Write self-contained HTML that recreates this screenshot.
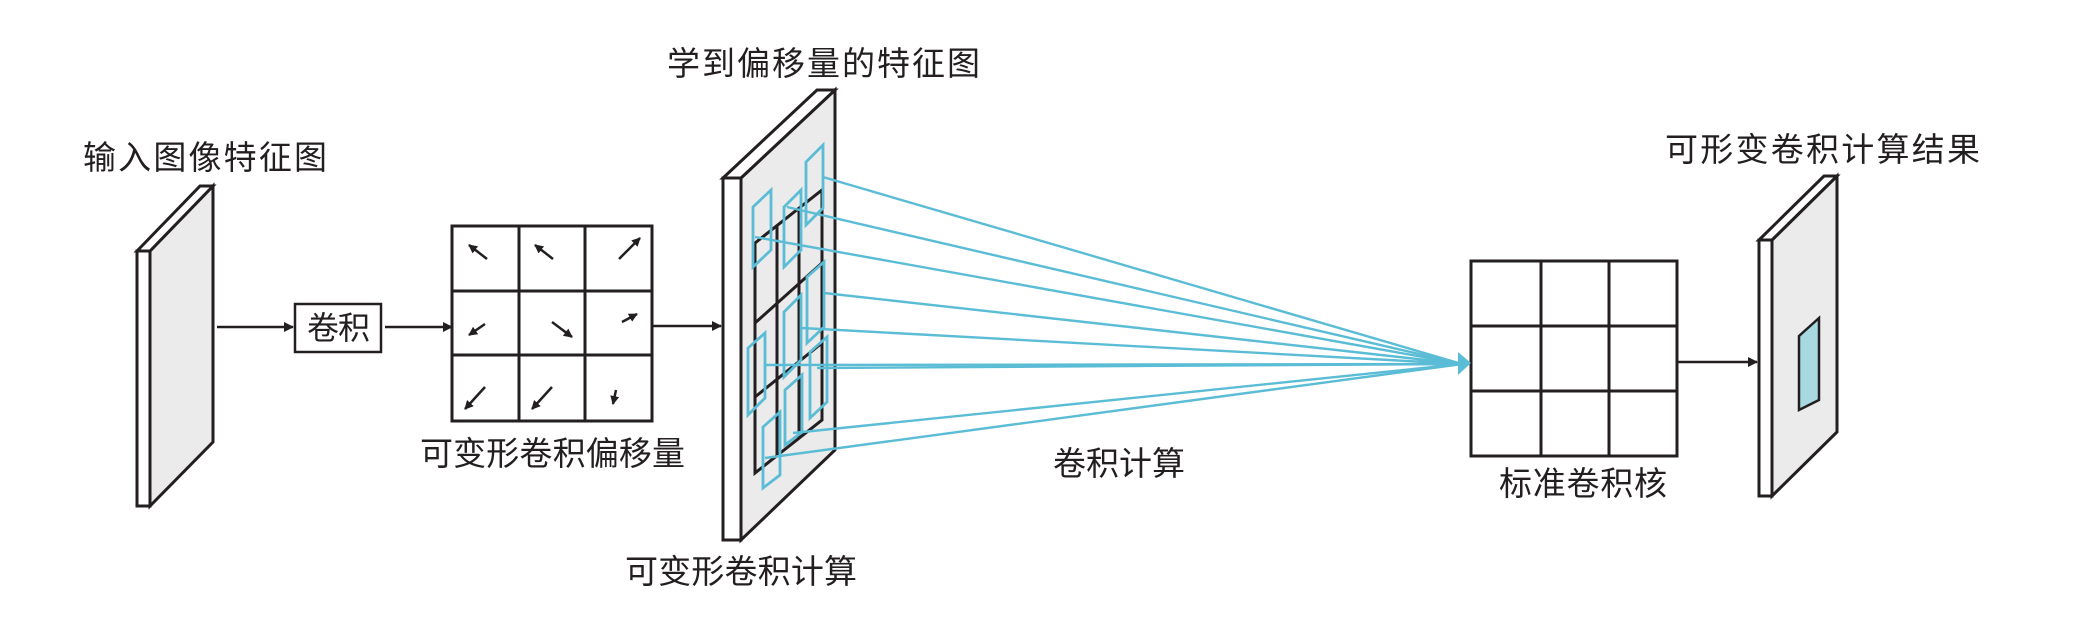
<!DOCTYPE html>
<html><head><meta charset="utf-8"><style>
html,body{margin:0;padding:0;background:#fff;}
svg{display:block;}
text{font-family:"Liberation Sans","Noto Sans CJK SC",sans-serif;font-size:33px;fill:#231f20;}
</style></head><body>
<svg width="2074" height="625" viewBox="0 0 2074 625" xmlns="http://www.w3.org/2000/svg">
<defs>
<marker id="ah" markerWidth="10" markerHeight="10" refX="9" refY="5" orient="auto" markerUnits="userSpaceOnUse"><path d="M0,0 L10,5 L0,10 Z" fill="#231f20"/></marker>
<marker id="sa" markerWidth="9" markerHeight="9" refX="8" refY="4.5" orient="auto" markerUnits="userSpaceOnUse"><path d="M0,0 L9,4.5 L0,9 Z" fill="#231f20"/></marker>
</defs>
<g stroke="#231f20" stroke-width="3" stroke-linejoin="miter">
<polygon points="150,251 213,186 213,442 150,506" fill="#ebebeb"/>
<polygon points="137,251 200,186 213,186 150,251" fill="#fff"/>
<rect x="137" y="251" width="13" height="255" fill="#fff"/>
<polygon points="741,178 835,90 835,450 741,540" fill="#ebebeb"/>
<polygon points="723,178 817,90 835,90 741,178" fill="#fff"/>
<rect x="723" y="178" width="18" height="362" fill="#fff"/>
<polygon points="1772,240 1837,176 1837,432 1772,496" fill="#ebebeb"/>
<polygon points="1759,240 1824,176 1837,176 1772,240" fill="#fff"/>
<rect x="1759" y="240" width="13" height="256" fill="#fff"/>
<polygon points="1799,336 1819,318 1819,400 1799,410" fill="#a8d8e0" stroke-width="2.5"/>
<line x1="217" y1="327" x2="293" y2="327" stroke-width="2.5" marker-end="url(#ah)"/>
<rect x="295" y="304" width="86" height="48" fill="#fff" stroke-width="2.5"/>
<line x1="385" y1="327" x2="452" y2="327" stroke-width="2.5" marker-end="url(#ah)"/>
<line x1="653" y1="326" x2="721" y2="326" stroke-width="2.5" marker-end="url(#ah)"/>
<line x1="1677" y1="362" x2="1757" y2="362" stroke-width="2.5" marker-end="url(#ah)"/>
<rect x="452" y="226" width="200" height="195" fill="#fff"/>
<line x1="519" y1="226" x2="519" y2="421"/><line x1="585" y1="226" x2="585" y2="421"/>
<line x1="452" y1="291" x2="652" y2="291"/><line x1="452" y1="355" x2="652" y2="355"/>
<rect x="1471" y="261" width="206" height="195" fill="#fff"/>
<line x1="1541" y1="261" x2="1541" y2="456"/><line x1="1609" y1="261" x2="1609" y2="456"/>
<line x1="1471" y1="326" x2="1677" y2="326"/><line x1="1471" y1="391" x2="1677" y2="391"/>
<polygon points="755,243 822,190 822,420 755,473" fill="none"/>
<line x1="777" y1="226" x2="777" y2="456"/><line x1="799" y1="208" x2="799" y2="438"/>
<line x1="755" y1="323" x2="822" y2="263"/><line x1="755" y1="397" x2="822" y2="343"/>
</g>
<g stroke="#231f20" stroke-width="2.5" marker-end="url(#sa)">
<line x1="487" y1="259" x2="469" y2="245"/>
<line x1="553" y1="259" x2="535" y2="245"/>
<line x1="619" y1="259" x2="640" y2="238"/>
<line x1="485" y1="324" x2="469" y2="335"/>
<line x1="552" y1="322" x2="572" y2="337"/>
<line x1="622" y1="322" x2="637" y2="314"/>
<line x1="485" y1="387" x2="465" y2="409"/>
<line x1="552" y1="387" x2="532" y2="409"/>
<line x1="616" y1="390" x2="613" y2="404"/>
</g>
<g fill="none" stroke="#5bbcd6" stroke-width="2.8">
<polygon points="806,162 823,145 823,208 806,225"/>
<polygon points="753,207 771,190 771,250 753,267"/>
<polygon points="784,207 801,190 801,250 784,267"/>
<polygon points="807,277 824,262 824,327 807,343"/>
<polygon points="784,312 801,295 801,360 784,377"/>
<polygon points="748,348 765,333 765,398 748,415"/>
<polygon points="810,352 827,337 827,402 810,418"/>
<polygon points="785,390 802,375 802,432 785,445"/>
<polygon points="763,427 780,412 780,475 763,488"/>
<g stroke-width="2.4">
<line x1="823" y1="177" x2="1462" y2="364"/>
<line x1="787" y1="207" x2="1462" y2="364"/>
<line x1="755" y1="237" x2="1462" y2="364"/>
<line x1="824" y1="293" x2="1462" y2="364"/>
<line x1="802" y1="328" x2="1462" y2="364"/>
<line x1="765" y1="365" x2="1462" y2="364"/>
<line x1="817" y1="368" x2="1462" y2="364"/>
<line x1="793" y1="433" x2="1462" y2="364"/>
<line x1="765" y1="458" x2="1462" y2="364"/>
</g>
</g>
<polygon points="1458,352 1471,363 1458,375" fill="#5bbcd6"/>
<text x="83" y="169" textLength="244">输入图像特征图</text>
<text x="667" y="75" textLength="313">学到偏移量的特征图</text>
<text x="307" y="339" textLength="63" style="font-size:32px">卷积</text>
<text x="420" y="465" textLength="265">可变形卷积偏移量</text>
<text x="625" y="583" textLength="232">可变形卷积计算</text>
<text x="1053" y="475" textLength="132">卷积计算</text>
<text x="1499" y="495" textLength="168">标准卷积核</text>
<text x="1665" y="161" textLength="315">可形变卷积计算结果</text>
</svg>
</body></html>
